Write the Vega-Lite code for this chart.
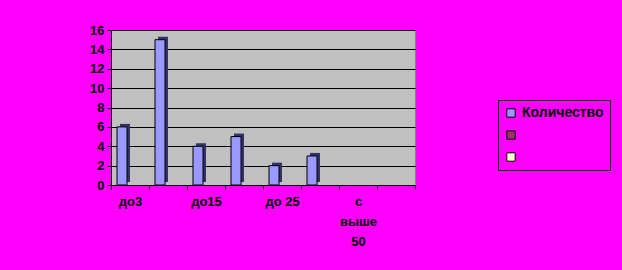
{
  "$schema": "https://vega.github.io/schema/vega-lite/v6.json",
  "autosize": {"type": "none"},
  "padding": {"left": 111, "top": 30, "right": 207, "bottom": 85},
  "width": 304,
  "height": 155,
  "background": "#FF00FF",
  "config": {
    "view": {"fill": "#C0C0C0", "stroke": "#808080", "strokeWidth": 1},
    "font": "Liberation Sans"
  },
  "data": {
    "values": [
      {"group": "до3", "series": "Количество", "value": 6},
      {"group": "до10", "series": "Количество", "value": 15},
      {"group": "до15", "series": "Количество", "value": 4},
      {"group": "до20", "series": "Количество", "value": 5},
      {"group": "до 25", "series": "Количество", "value": 2},
      {"group": "до 30", "series": "Количество", "value": 3}
    ]
  },
  "encoding": {
    "x": {
      "field": "group",
      "type": "nominal",
      "sort": null,
      "scale": {"domain": ["до3", "до10", "до15", "до20", "до 25", "до 30", "с выше 50", "прочее"], "paddingInner": 0, "paddingOuter": 0},
      "axis": {
        "title": null,
        "labelAngle": 0,
        "tickBand": "extent",
        "labelExpr": "datum.value == 'с выше 50' ? ['с', 'выше', '50'] : (indexof(['до3','до15','до 25'], datum.value) >= 0 ? datum.value : '')",
        "labelFont": "Liberation Sans",
        "labelFontWeight": "bold",
        "labelFontSize": 13,
        "labelColor": "black",
        "labelLineHeight": 20,
        "labelPadding": 6,
        "labelBaseline": "top",
        "domainColor": "black",
        "tickColor": "black",
        "tickSize": 4,
        "grid": false
      }
    },
    "y": {
      "field": "value",
      "type": "quantitative",
      "scale": {"domain": [0, 16], "nice": false},
      "axis": {
        "title": null,
        "values": [0, 2, 4, 6, 8, 10, 12, 14, 16],
        "labelFont": "Liberation Sans",
        "labelFontWeight": "bold",
        "labelFontSize": 13,
        "labelColor": "black",
        "labelPadding": 3,
        "domainColor": "black",
        "tickColor": "black",
        "tickSize": 4,
        "grid": true,
        "gridColor": "black",
        "gridOpacity": 1,
        "gridWidth": 1
      }
    }
  },
  "layer": [
    {
      "mark": {"type": "bar", "width": 10, "xOffset": -5, "yOffset": -3, "color": "#333366"}
    },
    {
      "mark": {"type": "bar", "width": 10, "xOffset": -8, "stroke": "black", "strokeWidth": 1},
      "encoding": {
        "color": {
          "field": "series",
          "type": "nominal",
          "scale": {"domain": ["Количество", "Ряд 2", "Ряд 3"], "range": ["#9999FF", "#993366", "#FFFFCC"]},
          "legend": {
            "title": null,
            "orient": "none",
            "legendX": 387,
            "legendY": 70,
            "padding": 6,
            "strokeColor": "black",
            "fillColor": "#FF00FF",
            "symbolType": "square",
            "symbolSize": 70,
            "symbolStrokeColor": "black",
            "symbolStrokeWidth": 1,
            "symbolOpacity": 1,
            "rowPadding": 8,
            "labelOffset": 4,
            "labelFont": "Liberation Sans",
            "labelFontWeight": "bold",
            "labelFontSize": 14,
            "labelColor": "black",
            "labelLimit": 200,
            "labelExpr": "datum.value == 'Количество' ? 'Количество\u00a0\u00a0' : ''"
          }
        }
      }
    }
  ]
}
